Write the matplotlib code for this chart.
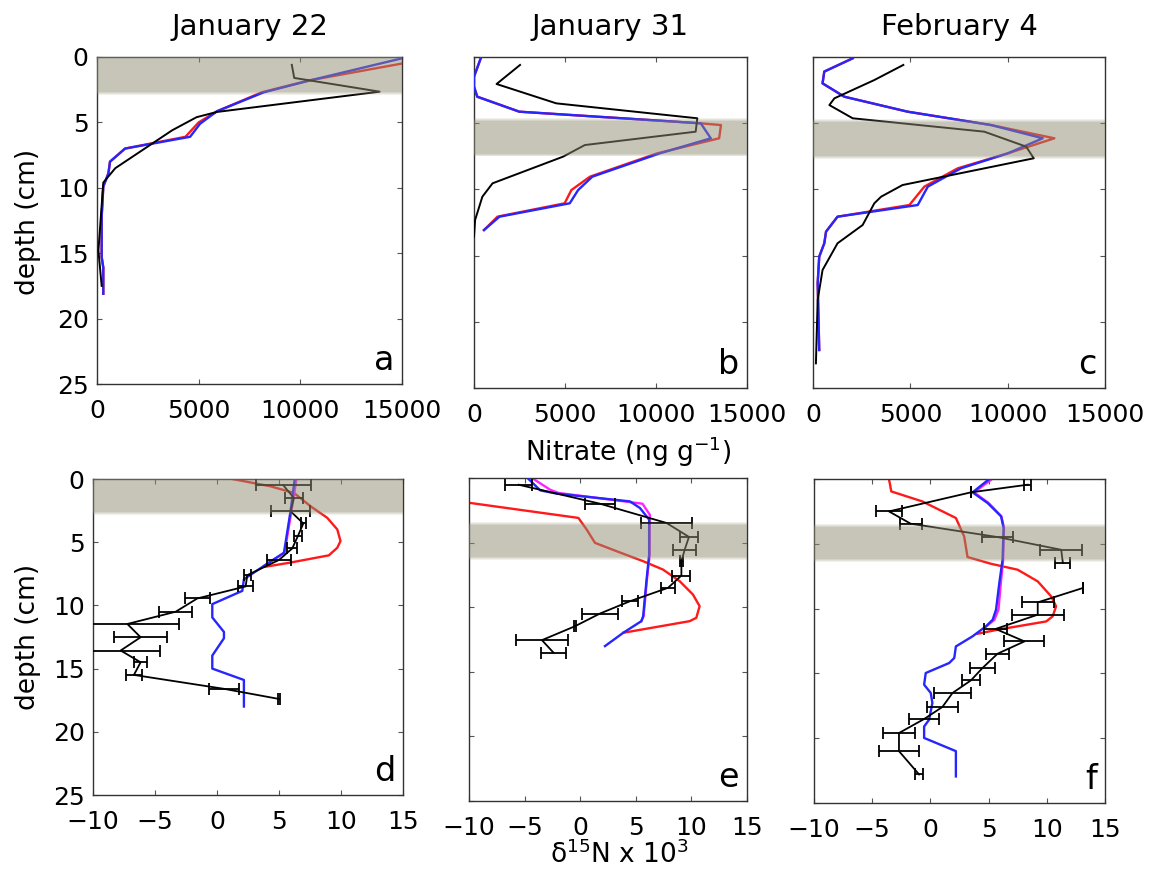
import numpy as np
import matplotlib
matplotlib.use("Agg")
import matplotlib.pyplot as plt

plt.rcParams['font.family'] = ['DejaVu Sans']

# ---------------- data ----------------
titles = ["January 22", "January 31", "February 4"]
letters = ["a", "b", "c", "d", "e", "f"]
no3_ticks = [0, 5000, 10000, 15000]
no3_ticklabels = ["0", "5000", "10000", "15000"]
d15_ticks = [-10, -5, 0, 5, 10, 15]
depth_ticks = [0, 5, 10, 15, 20, 25]

# shaded layers (cm)
shade_a = (0.0, 2.7)
shade_b = (4.8, 7.3)
shade_c = (4.9, 7.5)
shade_d = (0.0, 2.6)
shade_e = (3.6, 6.1)
shade_f = (3.7, 6.2)

# ---- Panel a: nitrate, January 22
a_obs_depth = [0.6, 1.6, 2.65, 4.2, 4.6, 5.6, 8.5, 9.6, 14.8, 17.5]
a_obs_no3 = [9580, 9700, 13900, 5900, 4900, 3700, 900, 310, 70, 230]
a_red_depth = [0.5, 1.8, 2.7, 4.15, 5.0, 6.1, 7.0, 8.0, 8.9, 9.9, 12.2, 15.3, 16.1, 18.1]
a_red_no3 = [15000, 10400, 8100, 5900, 5000, 4350, 1380, 640, 560, 310, 230, 230, 310, 310]
a_blue_depth = [0.1, 1.8, 2.7, 4.15, 5.1, 6.1, 7.0, 8.0, 8.9, 9.9, 12.2, 15.3, 16.1, 18.1]
a_blue_no3 = [15000, 10450, 8200, 5900, 5070, 4580, 1380, 640, 560, 310, 230, 230, 310, 310]

# ---- Panel b: nitrate, January 31
b_obs_depth = [0.6, 2.04, 3.5, 4.63, 5.64, 6.65, 7.53, 9.54, 10.55, 12.31, 13.57]
b_obs_no3 = [2530, 1240, 4520, 12270, 12180, 6090, 4890, 1020, 460, 60, 0]
b_red_depth = [0.1, 1.49, 2.24, 3.0, 4.13, 5.01, 5.14, 6.14, 7.28, 9.04, 10.05, 11.05, 12.06, 13.07]
b_red_no3 = [370, 0, 0, 180, 2490, 12460, 13570, 13470, 10060, 6370, 5350, 4980, 1290, 550]
b_blue_depth = [0.1, 1.49, 2.24, 3.0, 4.13, 5.01, 6.14, 7.28, 9.04, 10.05, 11.05, 12.06, 13.07]
b_blue_no3 = [370, 0, 0, 180, 2490, 12460, 13010, 10200, 6500, 5720, 5260, 1400, 550]

# ---- Panel c: nitrate, February 4
c_obs_depth = [0.6, 1.74, 3.12, 3.63, 4.63, 5.64, 6.77, 7.65, 9.67, 10.55, 11.05, 12.69, 14.07, 16.09, 18.35, 23.14]
c_obs_no3 = [4640, 3150, 1100, 840, 2040, 8800, 10950, 11340, 4600, 3500, 3150, 2550, 1260, 490, 240, 150]
c_red_depth = [0.1, 1.1, 1.99, 3.0, 4.13, 5.14, 6.14, 7.28, 8.41, 9.79, 11.18, 12.06, 13.19, 14.07, 15.08, 17.09, 22.13]
c_red_no3 = [2040, 580, 490, 1610, 4860, 9150, 12400, 10000, 7430, 5720, 4950, 1260, 670, 580, 320, 240, 320]
c_blue_depth = [0.1, 1.1, 1.99, 3.0, 4.13, 5.14, 6.14, 7.28, 8.41, 9.79, 11.18, 12.06, 13.19, 14.07, 15.08, 17.09, 22.13]
c_blue_no3 = [2040, 580, 490, 1610, 4860, 9150, 11800, 10000, 7600, 5900, 5380, 1260, 670, 580, 320, 240, 320]

# ---- Panel d: d15N, January 22
d_obs_depth = [0.5, 1.5, 2.55, 3.52, 4.52, 5.49, 6.41, 7.61, 8.5, 9.45, 10.5, 11.47, 12.52, 13.57, 14.5, 15.5, 16.6, 17.4]
d_obs_d15n = [5.35, 6.2, 5.93, 6.96, 6.52, 6.07, 4.99, 2.44, 2.31, -1.59, -3.33, -7.23, -6.16, -7.77, -6.16, -6.7, 0.56, 4.99]
d_obs_err = [2.2, 0.75, 1.6, 0.2, 0.3, 0.4, 0.94, 0.3, 0.6, 1.0, 1.34, 4.2, 2.15, 3.2, 0.5, 0.67, 1.2, 0.1]
d_red_depth = [0.0, 0.58, 1.1, 2.16, 3.07, 3.99, 4.91, 5.44, 6.04, 6.61, 6.95]
d_red_d15n = [1.24, 4.32, 6.2, 7.55, 8.89, 9.7, 9.96, 9.7, 9.02, 5.93, 3.85]
d_blue_depth = [0.05, 2.55, 5.83, 6.88, 7.93, 8.85, 9.9, 10.95, 12.1, 12.6, 13.97, 15.0, 15.9, 18.0]
d_blue_d15n = [6.26, 5.93, 5.4, 3.78, 2.17, 2.04, -0.38, -0.38, 0.56, 0.56, -0.38, -0.38, 2.17, 2.17]
d_mag_depth = [0.05, 2.55, 5.83, 6.88]
d_mag_d15n = [6.4, 6.0, 5.45, 3.78]

# ---- Panel e: d15N, January 31
e_obs_depth = [0.52, 1.99, 3.48, 4.56, 5.54, 6.44, 7.55, 8.5, 9.54, 10.49, 11.47, 12.55, 13.52]
e_obs_d15n = [-5.54, 1.78, 7.76, 9.78, 9.4, 9.1, 9.1, 7.9, 4.47, 1.78, -0.46, -3.44, -2.4]
e_obs_err = [1.2, 1.34, 2.28, 0.8, 1.05, 0.1, 0.8, 0.67, 0.75, 1.64, 0.1, 2.34, 1.12]
e_red_depth = [1.93, 3.09, 4.0, 5.02, 5.67, 6.44, 7.09, 7.99, 9.02, 9.92, 10.82, 11.08, 11.98]
e_red_d15n = [-9.9, -0.16, 0.59, 1.33, 3.28, 5.66, 7.45, 8.95, 10.14, 10.74, 10.44, 9.85, 3.87]
e_blue_depth = [0.08, 0.96, 1.21, 1.81, 2.32, 3.22, 5.93, 7.86, 10.7, 11.08, 11.98, 13.01]
e_blue_d15n = [-4.64, -3.59, -2.1, 4.47, 5.37, 6.2, 6.2, 5.97, 5.66, 5.5, 3.87, 2.23]
e_mag_depth = [0.08, 0.91, 1.16, 1.99, 2.84, 5.93, 7.86, 10.7, 11.08]
e_mag_d15n = [-4.19, -2.7, -1.93, 5.6, 6.26, 6.25, 6.0, 5.7, 5.5]

# ---- Panel f: d15N, February 4
f_obs_depth = [0.44, 1.03, 2.5, 3.45, 4.48, 5.46, 6.48, np.nan, 8.41, 9.52, 10.47, 11.57, 12.53, 13.48, 14.58, 15.54, 16.51, 17.59, 18.52, 19.6, 21.0, 22.8]
f_obs_d15n = [8.36, 3.48, -3.56, -1.69, 5.77, 11.24, 11.38, np.nan, 13.1, 9.22, 9.22, 5.6, 8.08, 5.77, 4.48, 3.48, 1.9, 1.03, -0.54, -2.7, -2.7, -0.97]
f_obs_err = [0.3, 0.0, 1.08, 0.93, 1.36, 1.8, 0.65, np.nan, 0.0, 1.36, 2.23, 1.0, 1.72, 1.0, 1.08, 0.8, 1.58, 1.32, 1.29, 1.34, 1.68, 0.36]
f_red_depth = [0.0, 0.96, 1.73, 3.01, 4.43, 6.02, 6.54, 7.0, 7.9, 9.06, 9.83, 10.6, 10.99, 11.63, 11.94]
f_red_d15n = [-3.56, -3.36, -0.69, 2.19, 2.9, 3.19, 5.2, 7.5, 9.22, 10.38, 10.8, 10.5, 9.95, 5.77, 4.05]
f_blue_depth = [0.0, 1.03, 1.85, 2.88, 3.78, 6.23, 8.03, 10.08, 10.86, 11.37, 12.14, 12.92, 13.81, 14.2, 14.97, 15.87, 16.51, 17.28, 18.57, 19.1, 19.98, 21.0, 22.95]
f_blue_d15n = [5.06, 3.62, 4.91, 6.07, 6.29, 6.2, 5.92, 5.64, 5.35, 4.77, 3.62, 2.19, 2.05, 1.61, -0.4, -0.54, 0.03, 0.17, -0.11, -0.54, -0.54, 2.19, 2.19]
f_mag_depth = [0.0, 1.03, 1.85, 2.88, 3.78, 6.23, 8.03, 10.08, 10.86, 11.37]
f_mag_d15n = [5.3, 3.75, 5.0, 6.1, 6.32, 6.25, 6.05, 5.85, 5.5, 4.8]

# ---------------- figure ----------------
W, H = 1155, 871
fig = plt.figure(figsize=(W / 100, H / 100), dpi=100)


def box(l, t, r, b):
    return [l / W, 1 - b / H, (r - l) / W, (b - t) / H]


boxes = [box(97, 57, 402, 384), box(474, 57, 747, 388), box(813, 57, 1105, 388),
         box(93, 479, 403, 795), box(469, 478, 747, 801), box(814, 479, 1105, 803)]
axes = [fig.add_axes(b) for b in boxes]

SHADE = '#918d71'
RED = '#ff1a1a'
BLUE = '#2626ff'
MAG = '#ff22ff'


def shade(ax, span):
    y0, y1 = span
    ax.axhspan(y0, y1, color=SHADE, alpha=0.5, lw=0, zorder=5)
    step = 0.07
    for k in range(1, 4):
        a = 0.5 * (1 - k / 4.0)
        ax.axhspan(y1 + (k - 1) * step, y1 + k * step, color=SHADE, alpha=a, lw=0, zorder=5)
        if y0 > 0:
            ax.axhspan(y0 - k * step, y0 - (k - 1) * step, color=SHADE, alpha=a, lw=0, zorder=5)


def style(ax, letter, xticks, xlim, xticklabels=None, ylabels=False):
    ax.set_ylim(25, 0)
    ax.set_xlim(*xlim)
    ax.set_yticks(depth_ticks)
    ax.set_xticks(xticks)
    if xticklabels is not None:
        ax.set_xticklabels(xticklabels)
    if not ylabels:
        ax.set_yticklabels([])
    ax.tick_params(direction='in', length=3.5, width=0.8, top=True, right=True,
                   labelsize=18, color='#555555')
    ax.tick_params(axis='x', pad=11)
    ax.tick_params(axis='y', pad=6)
    for s in ax.spines.values():
        s.set_color('#333333')
        s.set_linewidth(1.0)
    bb = ax.get_window_extent()
    ax.text(1 - 8 / bb.width, 14 / bb.height, letter, transform=ax.transAxes,
            ha='right', va='baseline', fontsize=24, zorder=7)


LW = 1.7
# top row: nitrate
top = [
    (a_obs_depth, a_obs_no3, a_red_depth, a_red_no3, a_blue_depth, a_blue_no3, shade_a),
    (b_obs_depth, b_obs_no3, b_red_depth, b_red_no3, b_blue_depth, b_blue_no3, shade_b),
    (c_obs_depth, c_obs_no3, c_red_depth, c_red_no3, c_blue_depth, c_blue_no3, shade_c),
]
for i, (od, ov, rd, rv, bd, bv, sp) in enumerate(top):
    ax = axes[i]
    ax.plot(rv, rd, color=RED, lw=LW, zorder=2)
    ax.plot(bv, bd, color=BLUE, lw=LW, zorder=3)
    ax.plot(ov, od, color='black', lw=1.4, zorder=4)
    shade(ax, sp)
    style(ax, letters[i], no3_ticks, (0, 15000), no3_ticklabels, ylabels=(i == 0))
    ax.set_title(titles[i], fontsize=21, pad=16)

# bottom row: d15N
bottom = [
    (d_obs_depth, d_obs_d15n, d_obs_err, d_red_depth, d_red_d15n, d_blue_depth, d_blue_d15n, d_mag_depth, d_mag_d15n, shade_d),
    (e_obs_depth, e_obs_d15n, e_obs_err, e_red_depth, e_red_d15n, e_blue_depth, e_blue_d15n, e_mag_depth, e_mag_d15n, shade_e),
    (f_obs_depth, f_obs_d15n, f_obs_err, f_red_depth, f_red_d15n, f_blue_depth, f_blue_d15n, f_mag_depth, f_mag_d15n, shade_f),
]
for i, (od, ov, oe, rd, rv, bd, bv, md, mv, sp) in enumerate(bottom):
    ax = axes[3 + i]
    ax.plot(rv, rd, color=RED, lw=LW, zorder=2)
    ax.plot(mv, md, color=MAG, lw=LW, zorder=2.5)
    ax.plot(bv, bd, color=BLUE, lw=LW, zorder=3)
    ax.errorbar(ov, od, xerr=oe, color='black', lw=1.3, elinewidth=1.3,
                capsize=4, capthick=1.3, zorder=4)
    shade(ax, sp)
    style(ax, letters[3 + i], d15_ticks, (-10, 15), ylabels=(i == 0))

# labels
fig.text(28 / W, 1 - 222 / H, 'depth (cm)', rotation=90, ha='center', va='center', fontsize=19)
fig.text(28 / W, 1 - 637 / H, 'depth (cm)', rotation=90, ha='center', va='center', fontsize=19)
fig.text(628 / W, 1 - 452 / H, r'Nitrate (ng g$^{-1}$)', ha='center', va='center', fontsize=19)
fig.text(619 / W, 1 - 855 / H, r'δ$^{15}$N x 10$^{3}$', ha='center', va='center', fontsize=19)

fig.savefig('out.png', dpi=100)
